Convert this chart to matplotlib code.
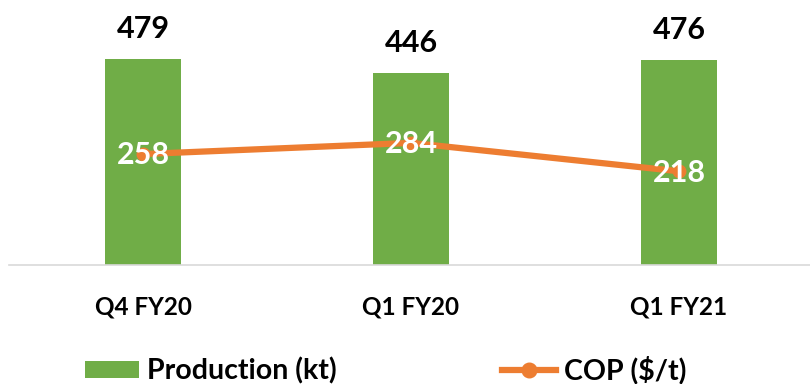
import matplotlib.pyplot as plt
from matplotlib.patches import Patch
from matplotlib.lines import Line2D

# Quarterly production and cost of production
quarters = ["Q4 FY20", "Q1 FY20", "Q1 FY21"]
production_kt = [479, 446, 476]
cop_usd_t = [258, 284, 218]

GREEN = "#70AD47"
ORANGE = "#ED7D31"
FONT = "Lato"

plt.rcParams["font.family"] = [FONT, "DejaVu Sans"]
plt.rcParams["font.weight"] = "bold"

fig = plt.figure(figsize=(8.1, 3.84), dpi=100)
ax = fig.add_axes([9 / 810, 119 / 384, 804 / 810, 258 / 384])

x = list(range(len(quarters)))
ax.bar(x, production_kt, width=0.284, color=GREEN, zorder=2)
ax.plot(x, cop_usd_t, color=ORANGE, lw=4.5, marker="o", markersize=9,
        solid_capstyle="round", zorder=3)

for xi, v in zip(x, production_kt):
    ax.annotate(f"{v}", (xi, v), xytext=(0, 15.5), textcoords="offset points",
                ha="center", va="baseline", fontsize=22, fontweight="bold",
                color="black", zorder=4)

for xi, v in zip(x, cop_usd_t):
    ax.annotate(f"{v}", (xi, v), xytext=(0, -1), textcoords="offset points",
                ha="center", va="center", fontsize=22, fontweight="bold",
                color="white", zorder=5)

ax.set_xlim(-0.5, 2.5)
ax.set_ylim(0, 600)
ax.set_yticks([])
ax.set_xticks(x)
ax.set_xticklabels(quarters, fontsize=17.5, fontweight="bold")
ax.tick_params(axis="x", length=0, pad=22)
for side in ("left", "right", "top"):
    ax.spines[side].set_visible(False)
ax.spines["bottom"].set_color("#D9D9D9")
ax.spines["bottom"].set_linewidth(1.2)

handles = [
    Patch(facecolor=GREEN, edgecolor="none", label="Production (kt)"),
    Line2D([0], [0], color=ORANGE, lw=4.5, marker="o", markersize=10.5,
           label="COP ($/t)"),
]
fig.legend(handles=handles, loc="center left", bbox_to_anchor=(85 / 810, 0.036),
           ncol=2, frameon=False, handlelength=1.9,
           handleheight=0.55, handletextpad=0.28, columnspacing=5.8,
           borderpad=0, borderaxespad=0,
           prop={"family": FONT, "weight": "bold", "size": 20.5})

fig.savefig("out.png", dpi=100)
